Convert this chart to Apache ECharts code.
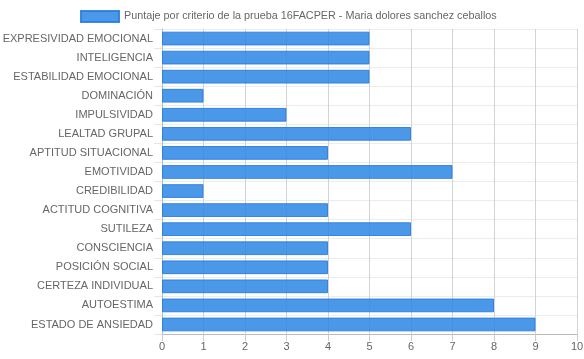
<!DOCTYPE html>
<html><head><meta charset="utf-8">
<script src="https://cdn.jsdelivr.net/npm/echarts@6/dist/echarts.min.js"></script>
<style>html,body{margin:0;padding:0;background:#fff}#c{width:584px;height:359px}</style>
</head><body><div id="c"></div>
<script>
const categories = ["EXPRESIVIDAD EMOCIONAL","INTELIGENCIA","ESTABILIDAD EMOCIONAL","DOMINACIÓN","IMPULSIVIDAD","LEALTAD GRUPAL","APTITUD SITUACIONAL","EMOTIVIDAD","CREDIBILIDAD","ACTITUD COGNITIVA","SUTILEZA","CONSCIENCIA","POSICIÓN SOCIAL","CERTEZA INDIVIDUAL","AUTOESTIMA","ESTADO DE ANSIEDAD"];
const values = [5,5,5,1,3,6,4,7,1,4,6,4,4,4,8,9];
const seriesName = "Puntaje por criterio de la prueba 16FACPER - Maria dolores sanchez ceballos";
const chart = echarts.init(document.getElementById('c'), null, {renderer:'canvas'});
chart.setOption({
  animation:false,
  textStyle:{fontFamily:'Liberation Sans, Arial, sans-serif'},
  legend:{top:5,left:75,itemWidth:38,itemHeight:11,itemGap:5,icon:'rect',
    textStyle:{color:'#666',fontSize:10.8,fontFamily:'Liberation Sans, Arial, sans-serif'}},
  grid:{left:162,right:7,top:29,bottom:25,containLabel:false,outerBoundsMode:'none'},
  xAxis:{type:'value',min:0,max:10,interval:1,
    axisLine:{show:true,lineStyle:{color:'#bbb'}},
    axisTick:{show:true,length:7,lineStyle:{color:'#ccc'}},
    axisLabel:{color:'#666',fontSize:11,margin:7},
    splitLine:{show:true,lineStyle:{color:'#d3d3d3'}}},
  yAxis:{type:'category',data:categories,inverse:true,boundaryGap:true,
    axisLine:{show:true,lineStyle:{color:'#bbb'}},
    axisTick:{show:true,length:8,alignWithLabel:false,lineStyle:{color:'#e6e6e6'}},
    axisLabel:{color:'#666',fontSize:11,margin:9},
    splitLine:{show:true,lineStyle:{color:'#ececec'}}},
  series:[{name:seriesName,type:'bar',data:values,barCategoryGap:'28%',
    itemStyle:{color:'rgba(43,134,229,0.85)',borderColor:'rgba(40,125,225,0.9)',borderWidth:1}}]
});
</script></body></html>
